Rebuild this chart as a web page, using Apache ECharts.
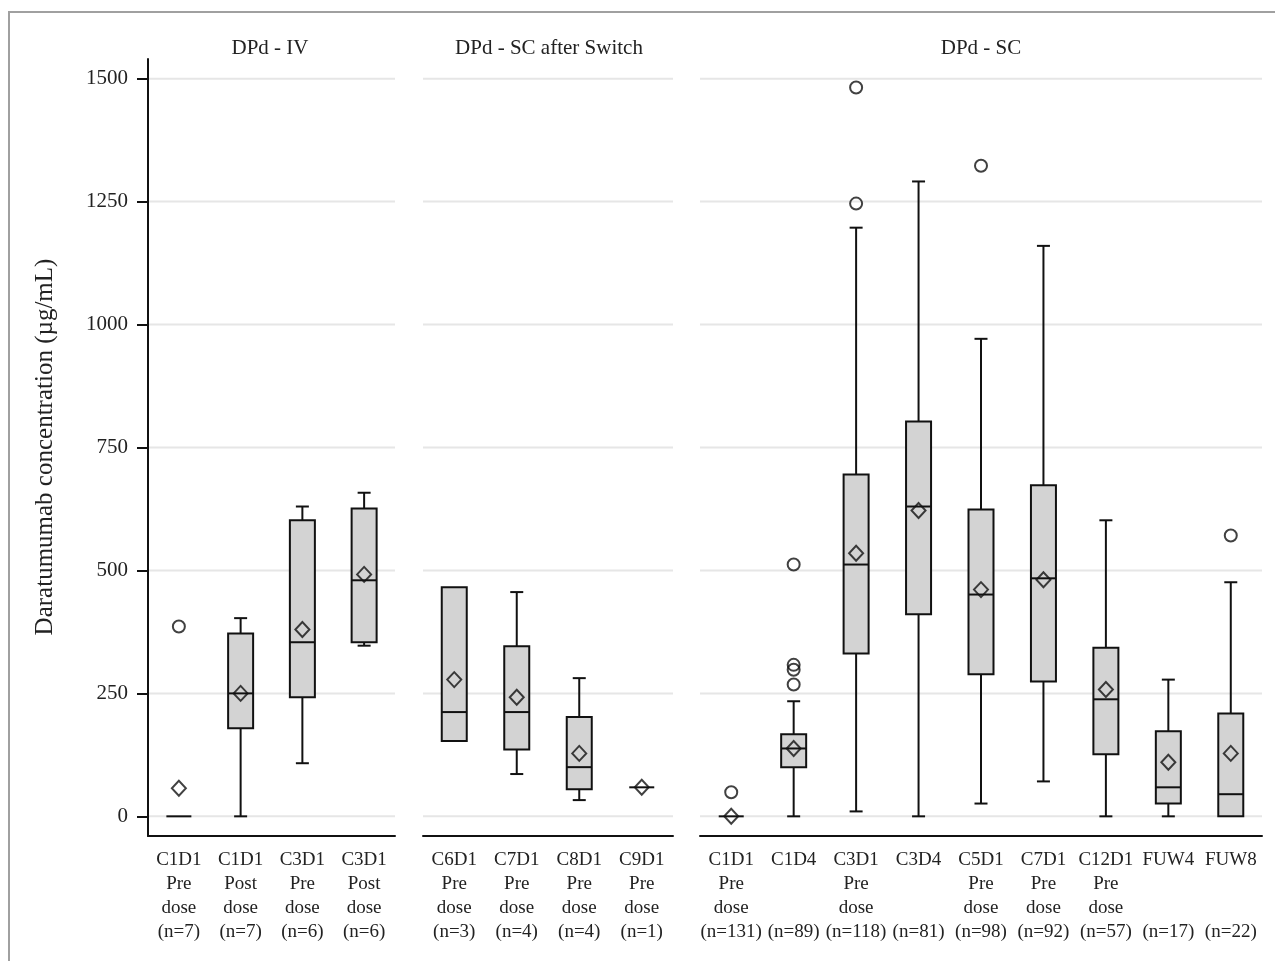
<!DOCTYPE html>
<html>
<head>
<meta charset="utf-8">
<script src="https://cdn.jsdelivr.net/npm/echarts@6/dist/echarts.min.js"></script>
<style>
html,body{margin:0;padding:0;background:#fff;}
#chart{width:1275px;height:961px;}
</style>
</head>
<body>
<div id="chart"></div>
<script>
// ---------------- DATA ----------------
const panelTitles = ['DPd - IV', 'DPd - SC after Switch', 'DPd - SC'];

const ivCategories = ['C1D1\nPre\ndose\n(n=7)', 'C1D1\nPost\ndose\n(n=7)', 'C3D1\nPre\ndose\n(n=6)', 'C3D1\nPost\ndose\n(n=6)'];
const switchCategories = ['C6D1\nPre\ndose\n(n=3)', 'C7D1\nPre\ndose\n(n=4)', 'C8D1\nPre\ndose\n(n=4)', 'C9D1\nPre\ndose\n(n=1)'];
const scCategories = ['C1D1\nPre\ndose\n(n=131)', 'C1D4\n\n\n(n=89)', 'C3D1\nPre\ndose\n(n=118)', 'C3D4\n\n\n(n=81)', 'C5D1\nPre\ndose\n(n=98)', 'C7D1\nPre\ndose\n(n=92)', 'C12D1\nPre\ndose\n(n=57)', 'FUW4\n\n\n(n=17)', 'FUW8\n\n\n(n=22)'];

// [whisker low, Q1, median, Q3, whisker high]
const ivBoxes = [[0,0,0,0,0],[0,179,250,372,403],[108,242,354,602,630],[347,354,480,626,658]];
const switchBoxes = [[153,153,212,466,466],[86,136,212,346,456],[33,55,100,202,281],[59,59,59,59,59]];
const scBoxes = [[0,0,0,0,0],[0,100,138,167,234],[10,331,512,695,1197],[0,411,630,803,1291],[26,289,451,624,971],[71,274,484,673,1160],[0,126,238,343,602],[0,26,59,173,278],[0,0,45,209,476]];

const ivMeans = [57, 250, 380, 492];
const switchMeans = [278, 242, 128, 59];
const scMeans = [0, 138, 535, 622, 461, 481, 258, 110, 128];

// [category index, value]
const ivOutliers = [[0, 386]];
const switchOutliers = [];
const scOutliers = [[0,49],[1,512],[1,308],[1,298],[1,268],[2,1482],[2,1246],[4,1323],[8,571]];

const yTicks = [0, 250, 500, 750, 1000, 1250, 1500];
const yMin = -40, yMax = 1540;

// ---------------- CHART ----------------
const SERIF = "'Liberation Serif','DejaVu Serif',serif";
const INK = '#111';
const panels = [
  {cats: ivCategories, boxes: ivBoxes, means: ivMeans, outliers: ivOutliers, left: 148, width: 247, titleX: 270},
  {cats: switchCategories, boxes: switchBoxes, means: switchMeans, outliers: switchOutliers, left: 423, width: 250, titleX: 549},
  {cats: scCategories, boxes: scBoxes, means: scMeans, outliers: scOutliers, left: 700, width: 562, titleX: 981}
];
const GRID_TOP = 59, GRID_H = 777;

function renderBox(params, api) {
  const x = api.value(0);
  const lo = api.value(1), q1 = api.value(2), med = api.value(3), q3 = api.value(4), hi = api.value(5);
  const pLo = api.coord([x, lo]), pQ1 = api.coord([x, q1]), pMed = api.coord([x, med]);
  const pQ3 = api.coord([x, q3]), pHi = api.coord([x, hi]);
  const cx = pMed[0], bw = 25, cw = 13;
  const ls = {stroke: INK, lineWidth: 2, fill: null};
  const ch = [];
  if (hi > q3) {
    ch.push({type: 'line', shape: {x1: cx, y1: pQ3[1], x2: cx, y2: pHi[1]}, style: ls});
    ch.push({type: 'line', shape: {x1: cx - cw / 2, y1: pHi[1], x2: cx + cw / 2, y2: pHi[1]}, style: ls});
  }
  if (lo < q1) {
    ch.push({type: 'line', shape: {x1: cx, y1: pQ1[1], x2: cx, y2: pLo[1]}, style: ls});
    ch.push({type: 'line', shape: {x1: cx - cw / 2, y1: pLo[1], x2: cx + cw / 2, y2: pLo[1]}, style: ls});
  }
  if (q3 > q1) {
    ch.push({type: 'rect', shape: {x: cx - bw / 2, y: pQ3[1], width: bw, height: pQ1[1] - pQ3[1]},
      style: {fill: '#d3d3d3', stroke: INK, lineWidth: 2}});
  }
  ch.push({type: 'line', shape: {x1: cx - bw / 2, y1: pMed[1], x2: cx + bw / 2, y2: pMed[1]}, style: ls});
  return {type: 'group', children: ch};
}

function renderGridLine(params, api) {
  const cs = params.coordSys;
  const y = api.coord([0, api.value(1)])[1];
  return {type: 'line', shape: {x1: cs.x, y1: y, x2: cs.x + cs.width, y2: y},
    style: {stroke: '#e6e6e6', lineWidth: 2}};
}

const grids = [], xAxes = [], yAxes = [], series = [];
panels.forEach((p, i) => {
  grids.push({left: p.left, width: p.width, top: GRID_TOP, height: GRID_H});
  xAxes.push({
    type: 'category', gridIndex: i, data: p.cats, boundaryGap: true,
    axisLine: {onZero: false, lineStyle: {color: INK, width: 2}},
    axisTick: {alignWithLabel: true, length: 8, lineStyle: {color: INK, width: 2}},
    axisLabel: {interval: 0, fontFamily: SERIF, fontSize: 19, lineHeight: 24, color: '#222', margin: 12},
    splitLine: {show: false}
  });
  const first = i === 0;
  yAxes.push({
    type: 'value', gridIndex: i, min: yMin, max: yMax,
    axisLine: {show: first, lineStyle: {color: INK, width: 2}},
    axisTick: {show: first, length: 11, customValues: yTicks, lineStyle: {color: INK, width: 2}},
    axisLabel: {show: first, customValues: yTicks, formatter: v => String(v),
      fontFamily: SERIF, fontSize: 21, color: '#222', margin: 20},
    splitLine: {show: false}
  });
  series.push({
    type: 'custom', xAxisIndex: i, yAxisIndex: i, z: 0, silent: true,
    renderItem: renderGridLine, encode: {x: 0, y: 1},
    data: yTicks.map(v => [0, v])
  });
  series.push({
    type: 'custom', xAxisIndex: i, yAxisIndex: i, z: 2,
    renderItem: renderBox, encode: {x: 0, y: [1, 2, 3, 4, 5]},
    data: p.boxes.map((b, k) => [k].concat(b))
  });
  series.push({
    type: 'scatter', xAxisIndex: i, yAxisIndex: i, z: 4,
    symbol: 'diamond', symbolSize: [14, 15],
    itemStyle: {color: 'rgba(0,0,0,0)', borderColor: INK, borderWidth: 2},
    data: p.means.map((m, k) => [k, m])
  });
  series.push({
    type: 'scatter', xAxisIndex: i, yAxisIndex: i, z: 4,
    symbol: 'circle', symbolSize: 12,
    itemStyle: {color: 'rgba(0,0,0,0)', borderColor: INK, borderWidth: 2},
    data: p.outliers
  });
});

const graphics = [
  {type: 'rect', shape: {x: 9, y: 12, width: 1300, height: 1000}, style: {fill: null, stroke: '#a0a0a0', lineWidth: 2}, silent: true},
  {type: 'text', x: 45, y: 447, rotation: Math.PI / 2,
   style: {text: 'Daratumumab concentration (µg/mL)', font: "25px " + SERIF, fill: '#222', align: 'center', verticalAlign: 'middle'}}
];
panels.forEach((p, i) => {
  graphics.push({type: 'text', x: p.titleX, y: 48,
    style: {text: panelTitles[i], font: "21px " + SERIF, fill: '#222', align: 'center', verticalAlign: 'middle'}});
});

const chart = echarts.init(document.getElementById('chart'));
chart.setOption({
  animation: false,
  backgroundColor: '#fff',
  grid: grids, xAxis: xAxes, yAxis: yAxes, series: series,
  graphic: graphics
});
</script>
</body>
</html>
